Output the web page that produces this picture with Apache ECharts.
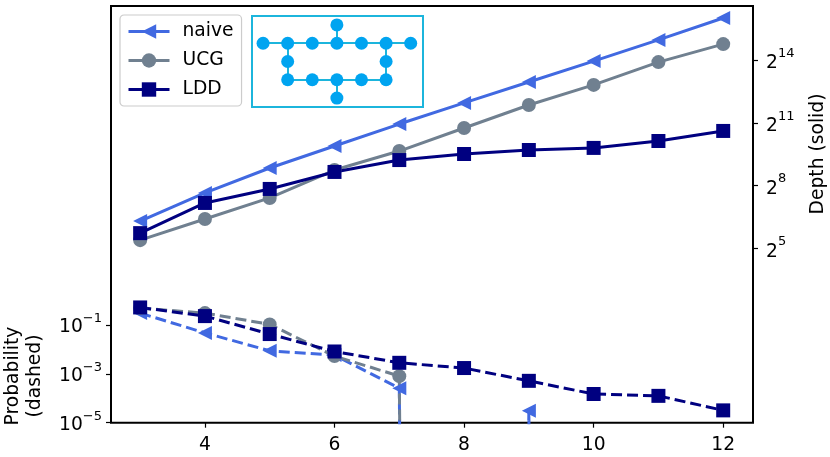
<!DOCTYPE html>
<html>
<head>
<meta charset="utf-8">
<style>html,body{margin:0;padding:0;background:#fff}#main{width:830px;height:457px}</style>
<script src="https://cdn.jsdelivr.net/npm/echarts@6/dist/echarts.min.js"></script>
</head>
<body>
<div id="main"></div>
<script>
var qubits = [3, 4, 5, 6, 7, 8, 9, 10, 11, 12];
var xTicks = [4, 6, 8, 10, 12];
var depthTicks = [32, 256, 2048, 16384];
var probTicks = [1e-1, 1e-3, 1e-5];

var depthNaive = [79, 201, 458, 949, 1964, 3956, 7912, 15800, 31860, 65900];
var depthUCG = [42, 84.5, 170, 428, 803, 1722, 3691, 7180, 15290, 27750];
var depthLDD = [53, 144, 229, 402, 596, 729, 832, 891, 1120, 1563];

// zero probability is clipped to a tiny value, as a log plot does
var ZERO = 1e-300;
var probNaive = [0.31, 0.048, 0.00885, 0.0059, 2.6e-4, ZERO, 3.1e-5, ZERO, ZERO, ZERO];
var probUCG = [0.5, 0.31, 0.107, 0.0054, 8.1e-4, ZERO, ZERO, ZERO, ZERO, ZERO];
var probLDD = [0.53, 0.234, 0.043, 0.0083, 0.00285, 0.00174, 5.2e-4, 1.5e-4, 1.26e-4, 3.2e-5];

// device layout of the inset: [column, row]
var deviceNodes = [[3,0],[0,1],[1,1],[2,1],[3,1],[4,1],[5,1],[6,1],[1,2],[5,2],[1,3],[2,3],[3,3],[4,3],[5,3],[3,4]];
var deviceLinks = [[0,4],[1,2],[2,3],[3,4],[4,5],[5,6],[6,7],[2,8],[8,10],[6,9],[9,14],[10,11],[11,12],[12,13],[13,14],[12,15]];

var FONT = '"DejaVu Sans"';
var FS = 18.7;
var LEFT_TRI = 'path://M0,5 L10,0 L10,10 Z';

function pairs(ys) {
    return qubits.map(function (q, i) { return [q, ys[i]]; });
}
function depthSeries(name, ys, color, symbol) {
    return {
        name: name, type: 'line', xAxisIndex: 0, yAxisIndex: 1,
        data: pairs(ys), symbol: symbol, symbolSize: 14,
        lineStyle: {color: color, width: 3},
        itemStyle: {color: color},
        emphasis: {disabled: true}
    };
}
function probSeries(name, ys, color, symbol) {
    return {
        name: name + ' probability', type: 'line', xAxisIndex: 0, yAxisIndex: 0,
        data: pairs(ys), symbol: symbol, symbolSize: 14,
        lineStyle: {color: color, width: 3, type: [11, 5]},
        itemStyle: {color: color},
        emphasis: {disabled: true}
    };
}
function powerLabel(base) {
    return function (v) {
        var e = Math.round(Math.log(v) / Math.log(base));
        return '{b|' + base + '}{s|' + String(e).replace('-', '\u2212') + '}';
    };
}
function labelRich(pad) {
    return {
        b: {fontFamily: FONT, fontSize: FS, color: '#000', verticalAlign: 'bottom', lineHeight: 26, padding: [0, 0, pad, 0]},
        s: {fontFamily: FONT, fontSize: 13, color: '#000', verticalAlign: 'top', lineHeight: 26}
    };
}
var tickStyle = {lineStyle: {color: '#000', width: 1.2}};

var option = {
    animation: false,
    backgroundColor: '#fff',
    textStyle: {fontFamily: FONT},
    legend: {
        data: ['naive', 'UCG', 'LDD'],
        left: 120, top: 15,
        orient: 'vertical',
        itemWidth: 41, itemHeight: 18, itemGap: 10,
        padding: [7, 8, 7, 7],
        lineStyle: {width: 3},
        borderColor: '#ccc', borderWidth: 1.2, borderRadius: 4,
        backgroundColor: '#fff',
        textStyle: {fontFamily: FONT, fontSize: FS, color: '#000', padding: [0, 0, 0, 8]}
    },
    grid: [
        {left: 111, right: 77, top: 6, bottom: 34.3, show: true, borderColor: '#000', borderWidth: 2, backgroundColor: 'transparent'},
        {left: 252, top: 16, width: 171, height: 91, show: true, borderColor: '#1CB5DC', borderWidth: 2, backgroundColor: '#fff'}
    ],
    xAxis: [
        {
            type: 'value', gridIndex: 0, min: 2.55, max: 12.46,
            splitLine: {show: false},
            axisLine: {show: false},
            axisTick: {show: true, length: 5, customValues: xTicks, lineStyle: tickStyle.lineStyle},
            axisLabel: {customValues: xTicks, fontFamily: FONT, fontSize: FS, color: '#000', margin: 13}
        },
        {type: 'value', gridIndex: 1, min: -0.45, max: 6.5, show: false, splitLine: {show: false}}
    ],
    yAxis: [
        {
            type: 'log', logBase: 10, gridIndex: 0, position: 'left',
            min: 1e-5, max: Math.pow(10, 12.08),
            splitLine: {show: false}, minorTick: {show: false}, minorSplitLine: {show: false},
            axisLine: {show: false},
            axisTick: {show: true, length: 5, customValues: probTicks, lineStyle: tickStyle.lineStyle},
            axisLabel: {customValues: probTicks, formatter: powerLabel(10), rich: labelRich(1), margin: 9}
        },
        {
            type: 'log', logBase: 2, gridIndex: 0, position: 'right',
            min: Math.pow(2, -3.33), max: Math.pow(2, 16.58),
            splitLine: {show: false}, minorTick: {show: false}, minorSplitLine: {show: false},
            axisLine: {show: false},
            axisTick: {show: true, length: 5, customValues: depthTicks, lineStyle: tickStyle.lineStyle},
            axisLabel: {customValues: depthTicks, formatter: powerLabel(2), rich: labelRich(0), margin: 13}
        },
        {type: 'value', gridIndex: 1, min: -0.49, max: 4.49, inverse: true, show: false, splitLine: {show: false}}
    ],
    graphic: [
        {type: 'text', x: 13, y: 376, rotation: Math.PI / 2, style: {text: 'Probability', font: FS + 'px ' + FONT, fill: '#000', align: 'center', verticalAlign: 'middle'}},
        {type: 'text', x: 35, y: 376, rotation: Math.PI / 2, style: {text: '(dashed)', font: FS + 'px ' + FONT, fill: '#000', align: 'center', verticalAlign: 'middle'}},
        {type: 'text', x: 818, y: 154, rotation: Math.PI / 2, style: {text: 'Depth (solid)', font: FS + 'px ' + FONT, fill: '#000', align: 'center', verticalAlign: 'middle'}}
    ],
    series: [
        probSeries('naive', probNaive, '#4169E1', LEFT_TRI),
        probSeries('UCG', probUCG, '#708090', 'circle'),
        probSeries('LDD', probLDD, '#000080', 'rect'),
        depthSeries('naive', depthNaive, '#4169E1', LEFT_TRI),
        depthSeries('UCG', depthUCG, '#708090', 'circle'),
        depthSeries('LDD', depthLDD, '#000080', 'rect'),
        {
            type: 'graph', coordinateSystem: 'cartesian2d', xAxisIndex: 1, yAxisIndex: 2,
            data: deviceNodes.map(function (n) { return {value: n}; }),
            links: deviceLinks.map(function (l) { return {source: l[0], target: l[1]}; }),
            symbol: 'circle', symbolSize: 13,
            itemStyle: {color: '#00A4F0'},
            lineStyle: {color: '#1CB5DC', width: 2, opacity: 1, curveness: 0},
            label: {show: false},
            emphasis: {disabled: true},
            z: 5
        }
    ]
};

var myChart = echarts.init(document.getElementById('main'), null, {renderer: 'canvas'});
myChart.setOption(option);
</script>
</body>
</html>
